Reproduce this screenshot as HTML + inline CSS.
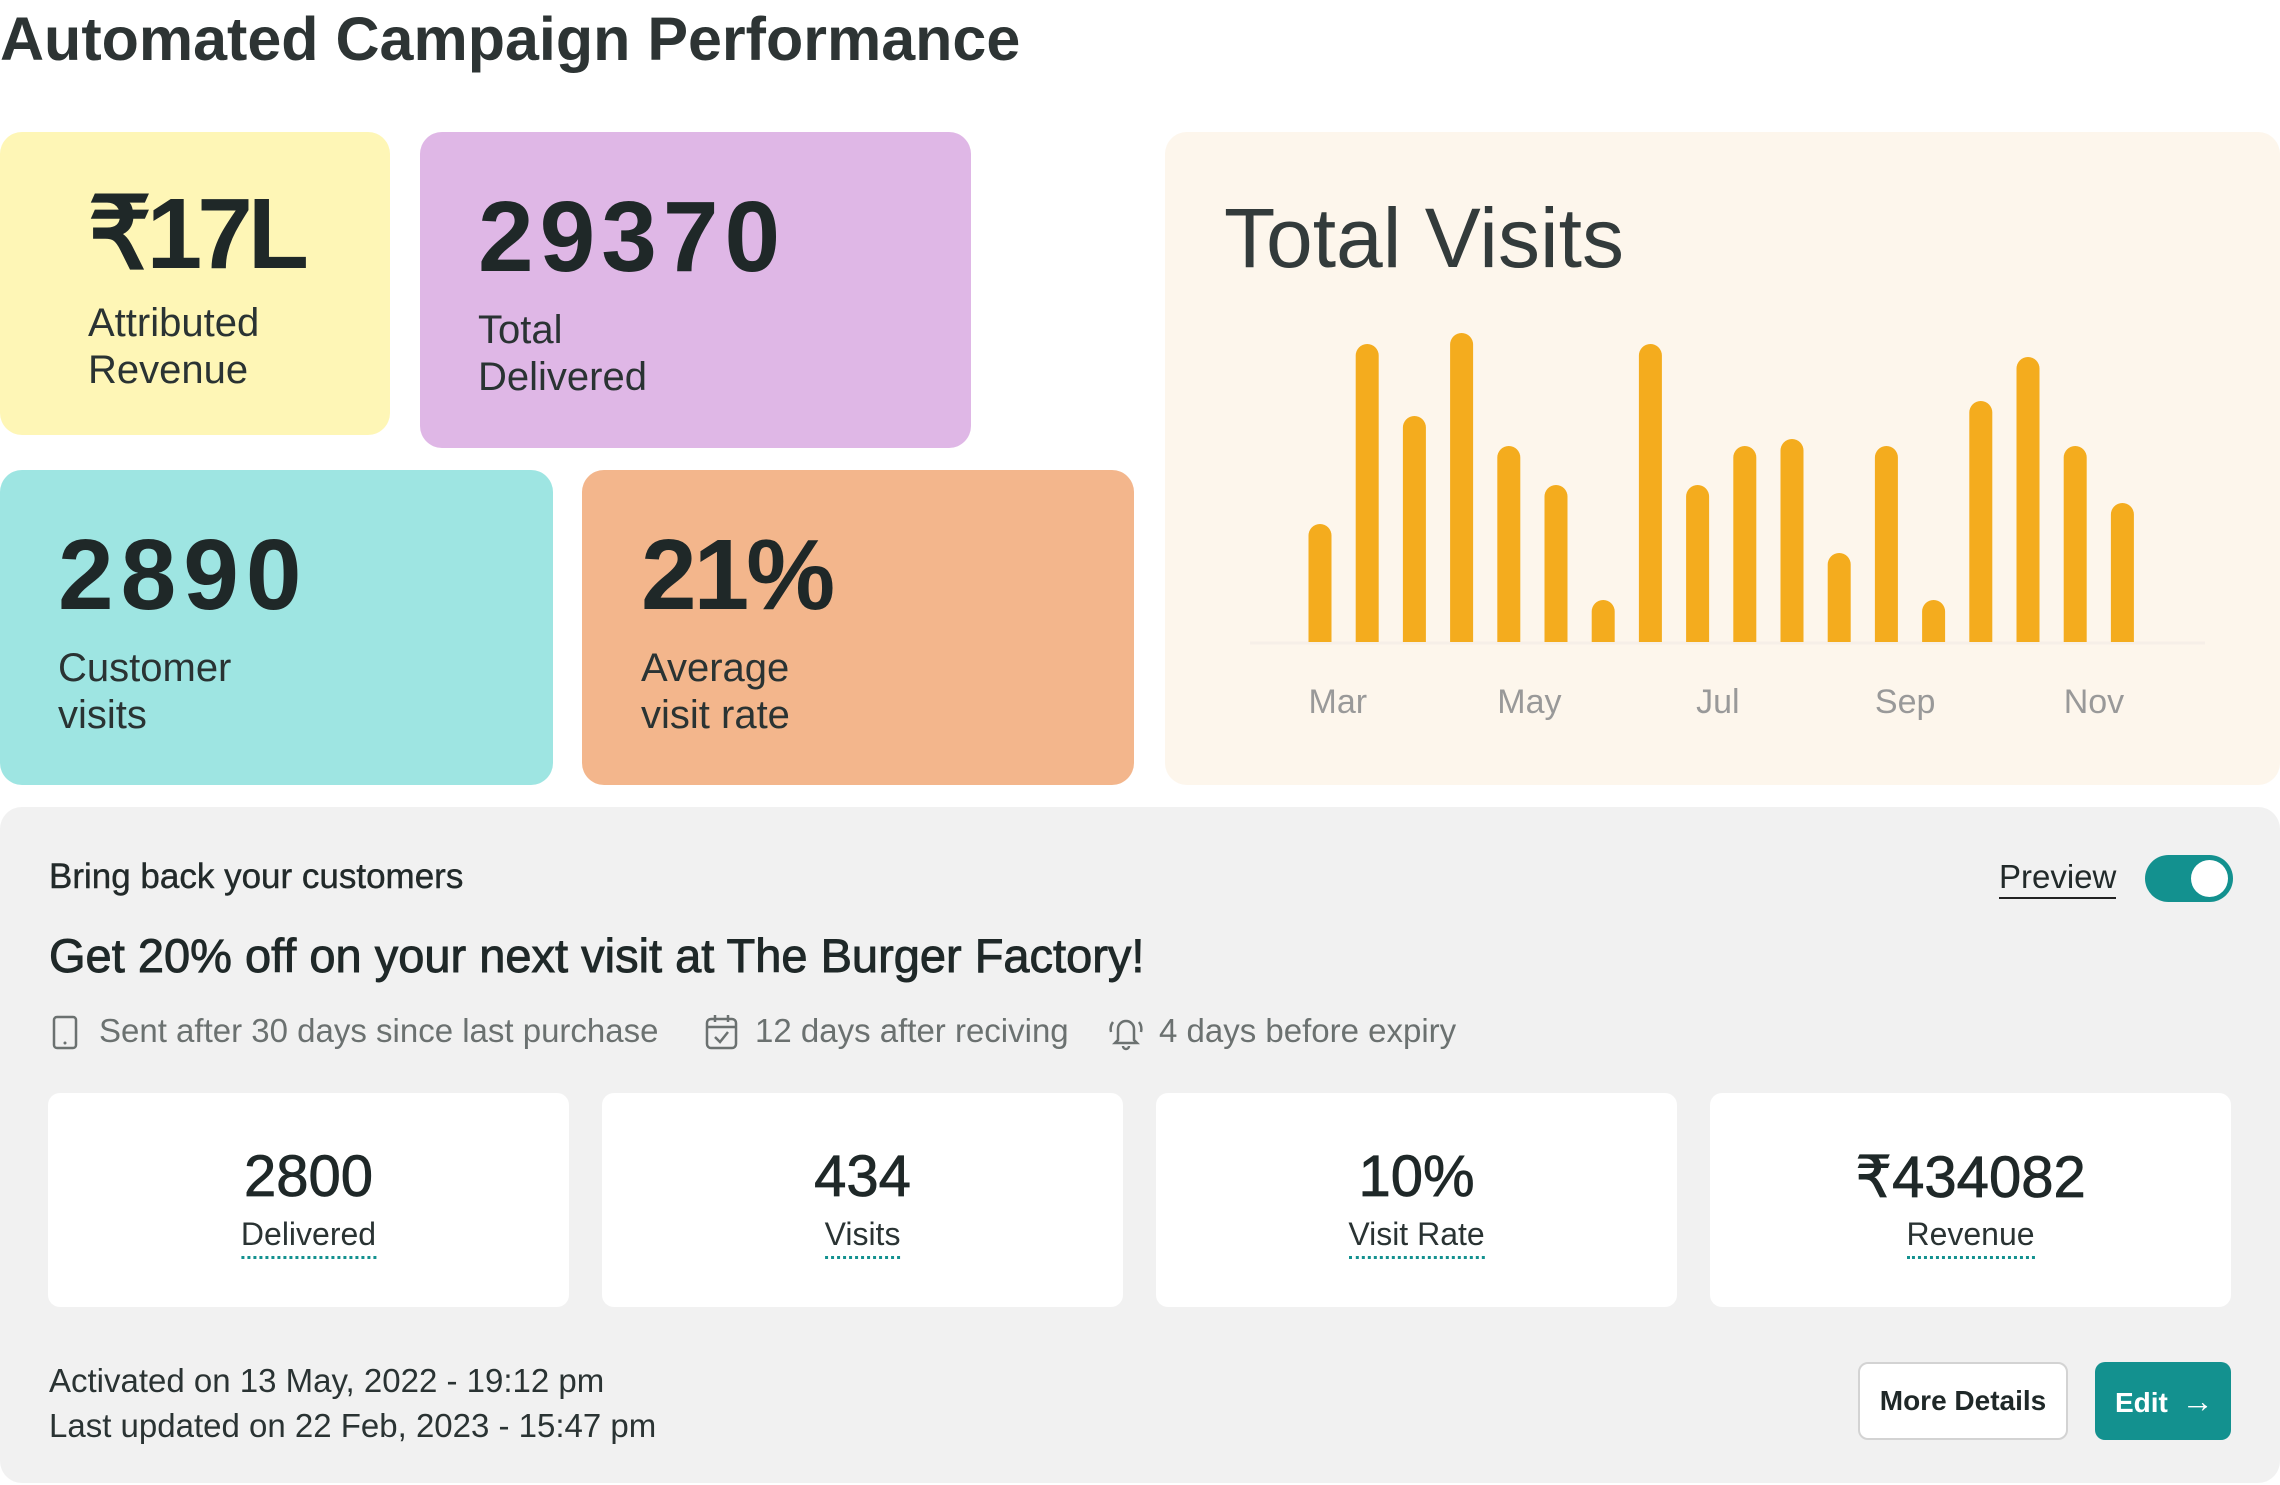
<!DOCTYPE html>
<html><head><meta charset="utf-8">
<style>
*{box-sizing:border-box;margin:0;padding:0}
body{width:2280px;height:1485px;background:#fff;font-family:"Liberation Sans",sans-serif;color:#222a2a;position:relative;overflow:hidden}
.abs{position:absolute}
.card{position:absolute;border-radius:22px}
.big{position:absolute;font-weight:bold;font-size:100px;line-height:1;color:#1f2828}
.lbl{position:absolute;font-size:40px;line-height:47px;color:#2a3333}
.stat{position:absolute;top:1093px;width:521px;height:214px;background:#fff;border-radius:12px;text-align:center}
.stat .n{position:absolute;top:50px;width:100%;font-size:58px;color:#1f2828;-webkit-text-stroke:0.8px #1f2828}
.stat .l{position:absolute;top:123px;left:50%;transform:translateX(-50%);font-size:32px;color:#2a3333;border-bottom:3px dotted #13918f;padding-bottom:3px;white-space:nowrap}
.meta{position:absolute;top:1012px;font-size:33px;color:#6b7170}
</style></head><body>
<div class="abs" style="left:0;top:4px;font-size:61px;font-weight:bold;color:#2d3434">Automated Campaign Performance</div>

<div class="card" style="left:0;top:132px;width:390px;height:303px;background:#fef6b6">
 <div class="big" style="left:88px;top:52px;letter-spacing:-5px">₹17L</div>
 <div class="lbl" style="left:88px;top:168px">Attributed<br>Revenue</div>
</div>
<div class="card" style="left:420px;top:132px;width:551px;height:316px;background:#dfb7e6">
 <div class="big" style="left:58px;top:55px;letter-spacing:6px">29370</div>
 <div class="lbl" style="left:58px;top:175px">Total<br>Delivered</div>
</div>
<div class="card" style="left:0;top:470px;width:553px;height:315px;background:#9ee5e2">
 <div class="big" style="left:58px;top:55px;letter-spacing:7px">2890</div>
 <div class="lbl" style="left:58px;top:175px">Customer<br>visits</div>
</div>
<div class="card" style="left:582px;top:470px;width:552px;height:315px;background:#f3b68c">
 <div class="big" style="left:59px;top:55px;letter-spacing:-3px">21%</div>
 <div class="lbl" style="left:59px;top:175px">Average<br>visit rate</div>
</div>

<div class="card" style="left:1165px;top:132px;width:1115px;height:653px;background:#fdf6ec">
 <div class="abs" style="left:59px;top:58px;font-size:84px;color:#333b3b">Total Visits</div>
 <svg id="chart" width="1115" height="653" style="position:absolute;left:0;top:0"></svg>
</div>

<div class="card" style="left:0;top:807px;width:2280px;height:676px;background:#f1f1f1"></div>
<div class="abs" style="left:49px;top:857px;font-size:35px;-webkit-text-stroke:0.4px #222a2a">Bring back your customers</div>
<div class="abs" style="left:49px;top:928px;font-size:47px;color:#1f2828;-webkit-text-stroke:0.9px #1f2828">Get 20% off on your next visit at The Burger Factory!</div>
<div class="abs" style="left:1999px;top:857px;font-size:33px;border-bottom:2px solid #222;line-height:40px">Preview</div>
<div class="abs" style="left:2145px;top:855px;width:88px;height:47px;border-radius:24px;background:#13918f"><div style="position:absolute;right:5px;top:5px;width:37px;height:37px;border-radius:50%;background:#fff"></div></div>

<svg class="abs" style="left:52px;top:1015px" width="28" height="36"><rect x="2" y="2" width="22" height="31" rx="3" fill="none" stroke="#6b7170" stroke-width="2.5"/><circle cx="13" cy="28" r="1.5" fill="#6b7170"/></svg>
<div class="meta" style="left:99px">Sent after 30 days since last purchase</div>
<svg class="abs" style="left:705px;top:1013px" width="34" height="38"><rect x="2" y="6" width="29" height="29" rx="4" fill="none" stroke="#6b7170" stroke-width="2.5"/><line x1="2" y1="14" x2="31" y2="14" stroke="#6b7170" stroke-width="2.5"/><line x1="10" y1="2" x2="10" y2="9" stroke="#6b7170" stroke-width="2.5"/><line x1="23" y1="2" x2="23" y2="9" stroke="#6b7170" stroke-width="2.5"/><polyline points="10,24 15,29 23,19" fill="none" stroke="#6b7170" stroke-width="2.5"/></svg>
<div class="meta" style="left:755px">12 days after reciving</div>
<svg class="abs" style="left:1108px;top:1012px" width="36" height="40"><path d="M10 28 V17 a8 8 0 0 1 16 0 V28 l3 3 H7 z" fill="none" stroke="#6b7170" stroke-width="2.5"/><path d="M15 34 a3 3 0 0 0 6 0" fill="none" stroke="#6b7170" stroke-width="2.5"/><path d="M5 10 a12 12 0 0 0 -2 10 M31 10 a12 12 0 0 1 2 10" fill="none" stroke="#6b7170" stroke-width="2.5"/></svg>
<div class="meta" style="left:1159px">4 days before expiry</div>

<div class="stat" style="left:48px"><div class="n">2800</div><div class="l">Delivered</div></div>
<div class="stat" style="left:602px"><div class="n">434</div><div class="l">Visits</div></div>
<div class="stat" style="left:1156px"><div class="n">10%</div><div class="l">Visit Rate</div></div>
<div class="stat" style="left:1710px"><div class="n">₹434082</div><div class="l">Revenue</div></div>

<div class="abs" style="left:49px;top:1358px;font-size:33px;line-height:45px;color:#2a3333">Activated on 13 May, 2022 - 19:12 pm<br>Last updated on 22 Feb, 2023 - 15:47 pm</div>
<div class="abs" style="left:1858px;top:1362px;width:210px;height:78px;border:2px solid #d3d3d3;border-radius:10px;background:#fff;font-size:28px;font-weight:bold;text-align:center;line-height:74px;color:#1f2828">More Details</div>
<div class="abs" style="left:2095px;top:1362px;width:136px;height:78px;border-radius:10px;background:#13918f;color:#fff;font-size:28px;font-weight:bold;line-height:78px;padding-left:20px">Edit <span style="font-weight:normal;font-size:32px;margin-left:6px">→</span></div>

<script>
const months = ["Mar","","","","May","","","","Jul","","","","Sep","","","","Nov",""];
const visits = [118,298,226,309,196,157,42,298,157,196,203,89,196,42,241,285,196,139];
const tickLabels = ["Mar","May","Jul","Sep","Nov"];
(function(){
 const svg=document.getElementById('chart');
 const ns='http://www.w3.org/2000/svg';
 const base=510, x0=155, step=47.2, bw=23, maxV=309, maxH=309;
 const x=i=>x0+i*step; const y=v=>base-v/maxV*maxH;
 const ax=document.createElementNS(ns,'line');
 ax.setAttribute('x1',85);ax.setAttribute('x2',1040);ax.setAttribute('y1',base+1);ax.setAttribute('y2',base+1);
 ax.setAttribute('stroke','#f6efe8');ax.setAttribute('stroke-width',3);
 
 
 svg.appendChild(ax);
 visits.forEach((v,i)=>{
  const top=y(v),r=bw/2;
  const p=document.createElementNS(ns,'path');
  p.setAttribute('d',`M${x(i)-r},${base} V${top+r} A${r},${r} 0 0 1 ${x(i)+r},${top+r} V${base} Z`);
  p.setAttribute('fill','#f4ac1e');
  
  
  svg.appendChild(p);
 });
 months.forEach((m,i)=>{
  if(!m)return;
  const t=document.createElementNS(ns,'text');
  t.setAttribute('x',x(i)-bw/2+(m==="Jul"?10:0));t.setAttribute('y',581);
  t.setAttribute('font-size','34');t.setAttribute('fill','#999');
  t.setAttribute('font-family','Liberation Sans, sans-serif');
  t.textContent=m;
  
  
  svg.appendChild(t);
 });
})();
</script>
</body></html>
